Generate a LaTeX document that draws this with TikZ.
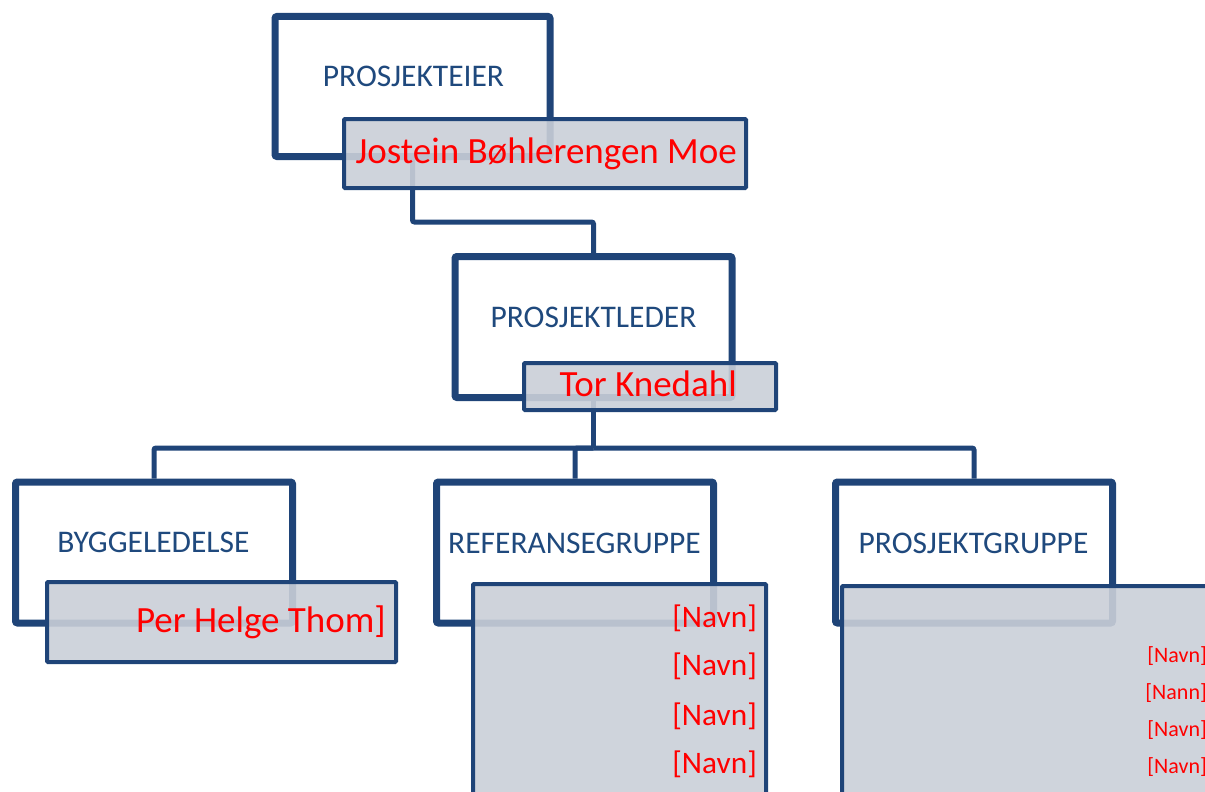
\documentclass[tikz,border=0pt]{standalone}
\usepackage{fontspec}
\setmainfont{Carlito}
\usepackage{xcolor}
\usepackage{tikz}
\usetikzlibrary{positioning, backgrounds, shadows}

\definecolor{rammeblaa}{RGB}{31,68,120}
\definecolor{tekstblaa}{RGB}{31,73,125}
\definecolor{navngraa}{RGB}{202,207,216}

\tikzset{
  ramme/.style = {draw = rammeblaa, line width = 7pt, fill = white, rounded corners = 2pt,
    inner sep = 0pt, minimum width = 277pt, minimum height = 141pt,
    drop shadow = {shadow xshift = 2pt, shadow yshift = -2pt, opacity = 0.2}},
  navneboks/.style = {draw = rammeblaa, line width = 4pt, fill = navngraa, fill opacity = 0.9,
    draw opacity = 1, rounded corners = 1pt, inner sep = 0pt},
  tittel/.style = {anchor = base, inner sep = 0pt, text = tekstblaa, font = \fontsize{31.5}{38}\selectfont},
  navn/.style = {anchor = base east, inner sep = 0pt, text = red, font = \fontsize{37}{44}\selectfont},
  navnmid/.style = {anchor = base east, inner sep = 0pt, text = red, font = \fontsize{31.3}{38}\selectfont},
  navnliten/.style = {anchor = base east, inner sep = 0pt, text = red, font = \fontsize{22}{26}\selectfont},
  linje/.style = {draw = rammeblaa, line width = 5pt, rounded corners = 2pt}
}

\begin{document}
\begin{tikzpicture}[x = 1pt, y = -1pt]
\path [use as bounding box, clip] (0, 0) rectangle (1205, 792);
% rammer
\node [ramme, minimum width = 275pt, minimum height = 140pt] (eier) at (412.5, 86.5) {};
\node [ramme] (leder) at (593.5, 327) {};
\node [ramme] (bygg) at (154, 552.5) {};
\node [ramme] (ref) at (575, 552.5) {};
\node [ramme] (gruppe) at (974, 552.5) {};
\node [tittel] (eiertekst) at (413.5, 87) {PROSJEKTEIER};
\node [tittel] (ledertekst) at (593.5, 327) {PROSJEKTLEDER};
\node [tittel] (byggtekst) at (153.5, 552) {BYGGELEDELSE};
\node [tittel] (reftekst) at (574.5, 553) {REFERANSEGRUPPE};
\node [tittel] (gruppetekst) at (973.5, 553) {PROSJEKTGRUPPE};
% navnebokser
\node [navneboks, minimum width = 402pt, minimum height = 69pt] (eiernavn) at (545, 153.5) {};
\node [navneboks, minimum width = 252pt, minimum height = 47pt] (ledernavn) at (650, 386.5) {};
\node [navneboks, minimum width = 349pt, minimum height = 80pt] (byggnavn) at (221.5, 622) {};
\node [navneboks, minimum width = 293pt, minimum height = 316pt] (refnavn) at (619.5, 742) {};
\node [navneboks, minimum width = 458pt, minimum height = 314pt] (gruppenavn) at (1071, 743) {};
\node [navn] (eiernavntekst) at (737, 163) {Jostein Bøhlerengen Moe};
\node [navn] (ledernavntekst) at (737, 396) {Tor Knedahl};
\node [navn] (byggnavntekst) at (386, 632) {Per Helge Thom]};
\foreach \y in {627, 675, 725, 773}
  \node [navnmid] (ref\y) at (757, \y) {[Navn]};
\foreach \y/\n in {662/Navn, 699/Nann, 736/Navn, 773/Navn}
  \node [navnliten] (gruppe\y) at (1207, \y) {[\n]};
% linjer
\coordinate (k1) at (412.5, 222);
\coordinate (k2) at (593.5, 448);
\begin{scope}[on background layer]
\draw [linje] (eier.south) |- (k1) -| (leder.north);
\draw [linje] (leder.south) -- (k2);
\draw [linje] (k2) -| (bygg.north);
\draw [linje] (k2) -| (ref.north);
\draw [linje] (k2) -| (gruppe.north);
\end{scope}
\end{tikzpicture}
\end{document}
